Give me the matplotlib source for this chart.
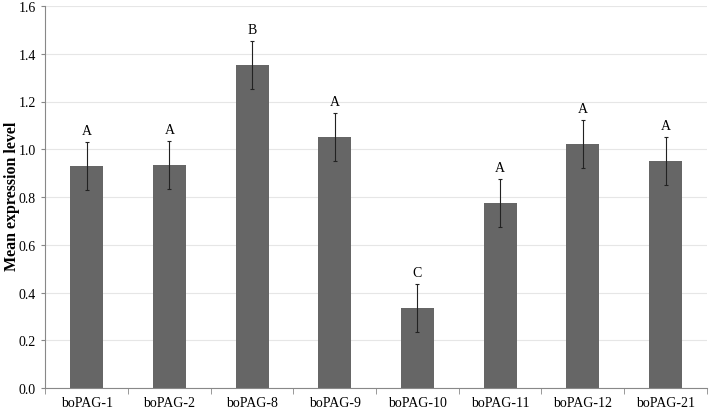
import numpy as np
from matplotlib import pyplot as plt

genes = ["boPAG-1", "boPAG-2", "boPAG-8", "boPAG-9",
         "boPAG-10", "boPAG-11", "boPAG-12", "boPAG-21"]
means = [0.93, 0.935, 1.353, 1.05, 0.335, 0.775, 1.022, 0.95]
errors = [0.1, 0.1, 0.1, 0.1, 0.1, 0.1, 0.1, 0.1]
groups = ["A", "A", "B", "A", "C", "A", "A", "A"]

plt.rcParams["font.family"] = ["Liberation Serif", "DejaVu Serif"]

fig = plt.figure(figsize=(7.09, 4.10), dpi=100)
ax = fig.add_axes([0.064, 0.051, 0.933, 0.932])

x = np.arange(len(genes))
ax.bar(x, means, width=0.4, color="#666666", zorder=2)
ax.errorbar(x, means, yerr=errors, fmt="none", ecolor="#222222",
            elinewidth=0.8, capsize=1.5, capthick=0.8, zorder=3)
for xi, m, e, g in zip(x, means, errors, groups):
    ax.text(xi, m + e + 0.022, g, ha="center", va="bottom", fontsize=10)

ax.set_xlim(-0.5, len(genes) - 0.5)
ax.set_ylim(0, 1.6)
ax.set_yticks(np.arange(0, 1.61, 0.2))
ax.set_yticklabels([f"{v:.1f}" for v in np.arange(0, 1.61, 0.2)], fontsize=10)
ax.set_xticks(x)
ax.set_xticklabels(genes, fontsize=10)
ax.set_xticks(np.arange(-0.5, len(genes)), minor=True)
ax.tick_params(axis="x", which="major", length=0, pad=6)
ax.tick_params(axis="x", which="minor", length=4, color="#888888")
ax.tick_params(axis="y", length=3, color="#888888", pad=4)

# y label placed by hand so it is not clipped at the left edge
fig.text(0.017, 0.52, "Mean expression level", rotation=90,
         ha="center", va="center", fontsize=11.5, fontweight="bold")

ax.grid(axis="y", color="#e6e6e6", linewidth=0.8, zorder=0)
ax.set_axisbelow(True)
for side in ["top", "right"]:
    ax.spines[side].set_visible(False)
ax.spines["left"].set_color("#888888")
ax.spines["bottom"].set_color("#888888")

fig.savefig("out.png", dpi=100)
